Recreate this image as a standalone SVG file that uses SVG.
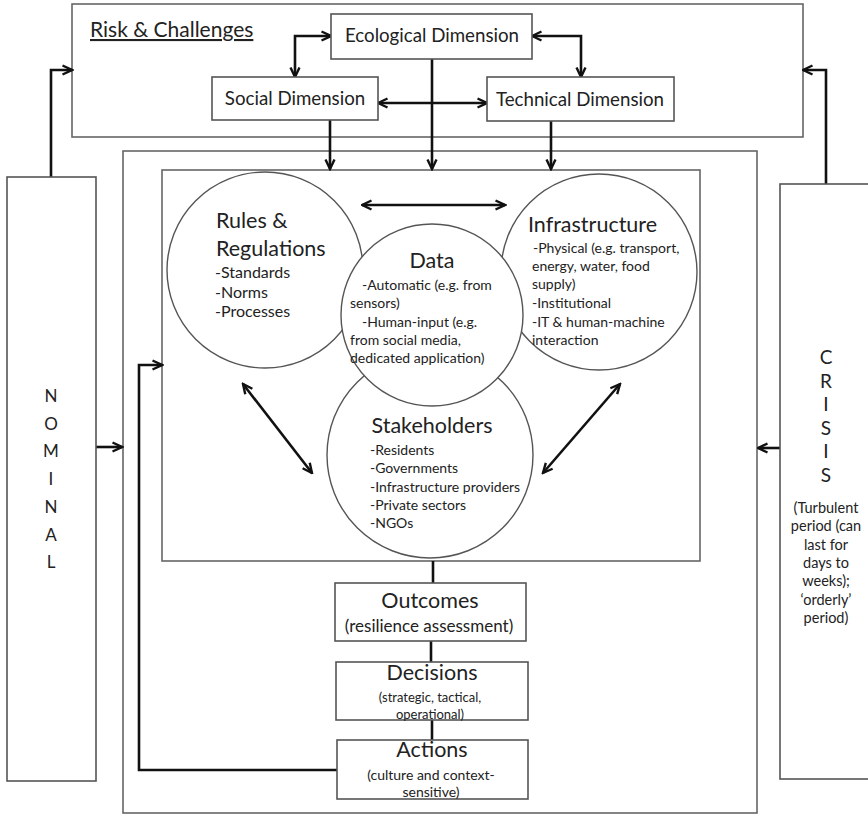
<svg xmlns="http://www.w3.org/2000/svg" width="868" height="815" viewBox="0 0 868 815">
  <defs>
    <style>
      text { font-family: Lato, "Open Sans", "Liberation Sans", sans-serif; fill: #222; }
      .frame { fill: #fff; stroke: #666; stroke-width: 1.6; }
      .box { fill: #fff; stroke: #555; stroke-width: 1.6; }
      .circle { fill: #fff; stroke: #555; stroke-width: 1.4; }
      .conn { fill: none; stroke: #111; stroke-width: 2.6; }
      .one { marker-end: url(#head); }
      .two { marker-start: url(#head); marker-end: url(#head); }
      .h1 { font-size: 21.5px; }
      .h2 { font-size: 18.7px; }
      .item { font-size: 14px; }
      .mid { text-anchor: middle; }
    </style>
    <marker id="head" viewBox="0 0 12 12" refX="10.5" refY="6" markerWidth="12" markerHeight="12" markerUnits="userSpaceOnUse" orient="auto-start-reverse">
      <path d="M1,1.5 L10.5,6 L1,10.5" fill="none" stroke="#111" stroke-width="2.4" stroke-linejoin="miter"/>
    </marker>
  </defs>

  <rect width="868" height="815" fill="#fff"/>

  <!-- outer frames -->
  <g id="risk-frame">
    <rect class="frame" x="72" y="4" width="731" height="133"/>
    <text x="90" y="37" font-size="21" text-decoration="underline">Risk &amp; Challenges</text>
  </g>
  <g id="system-frame">
    <rect class="frame" x="123" y="151" width="634" height="662"/>
    <rect class="frame" x="162" y="170" width="538" height="391"/>
  </g>

  <!-- connectors -->
  <g id="connectors">
    <!-- within the risk frame -->
    <path class="conn two" d="M331,36 H295 V77"/>
    <path class="conn two" d="M532,36 H581 V77"/>
    <path class="conn two" d="M378,103 H487"/>
    <!-- dimensions into the system -->
    <path class="conn one" d="M330,120 V169"/>
    <path class="conn one" d="M432,59 V169"/>
    <path class="conn one" d="M551,121 V169"/>
    <!-- between circles -->
    <path class="conn two" d="M362,205 H505"/>
    <path class="conn two" d="M243,384 L312,473"/>
    <path class="conn two" d="M620,384 L543,473"/>
    <!-- outcome chain -->
    <path class="conn" d="M433,561 V583"/>
    <path class="conn" d="M431,641 V662"/>
    <path class="conn" d="M432,720 V740"/>
    <!-- feedback from actions -->
    <path class="conn one" d="M337,770 H139 V365 H162"/>
    <!-- modes -->
    <path class="conn one" d="M51,177 V70 H72"/>
    <path class="conn one" d="M826,184 V70 H803"/>
    <path class="conn one" d="M96,447 H122"/>
    <path class="conn one" d="M780,448 H758"/>
  </g>

  <!-- dimension boxes -->
  <g id="ecological">
    <rect class="box" x="331" y="14" width="201" height="45"/>
    <text x="432" y="42" class="h2 mid">Ecological Dimension</text>
  </g>
  <g id="social">
    <rect class="box" x="212" y="77" width="166" height="43"/>
    <text x="295" y="105" class="h2 mid">Social Dimension</text>
  </g>
  <g id="technical">
    <rect class="box" x="487" y="77" width="187" height="44"/>
    <text x="580" y="106" class="h2 mid">Technical Dimension</text>
  </g>

  <!-- circles -->
  <g id="rules">
    <circle class="circle" cx="265" cy="270" r="98"/>
    <text x="216" y="228" class="h1">Rules &amp;</text>
    <text x="216" y="256" class="h1">Regulations</text>
    <text x="215" y="278" font-size="16">-Standards</text>
    <text x="215" y="298" font-size="16">-Norms</text>
    <text x="215" y="317" font-size="16">-Processes</text>
  </g>
  <g id="infrastructure">
    <circle class="circle" cx="599" cy="272" r="98"/>
    <text x="528" y="232" class="h1">Infrastructure</text>
    <text x="533" y="253" class="item">-Physical (e.g. transport,</text>
    <text x="532" y="271" class="item">energy, water, food</text>
    <text x="532" y="289" class="item">supply)</text>
    <text x="532" y="308" class="item">-Institutional</text>
    <text x="532" y="327" class="item">-IT &amp; human-machine</text>
    <text x="532" y="345" class="item">interaction</text>
  </g>
  <g id="stakeholders">
    <circle class="circle" cx="430" cy="455" r="103"/>
    <text x="432" y="433" class="h1 mid">Stakeholders</text>
    <text x="370" y="455" class="item">-Residents</text>
    <text x="370" y="473" class="item">-Governments</text>
    <text x="370" y="492" class="item">-Infrastructure providers</text>
    <text x="370" y="510" class="item">-Private sectors</text>
    <text x="370" y="528" class="item">-NGOs</text>
  </g>
  <g id="data">
    <circle class="circle" cx="432" cy="315" r="91"/>
    <text x="432" y="268" class="h1 mid">Data</text>
    <text x="362" y="290" class="item">-Automatic (e.g. from</text>
    <text x="350" y="308" class="item">sensors)</text>
    <text x="362" y="327" class="item">-Human-input (e.g.</text>
    <text x="350" y="345" class="item">from social media,</text>
    <text x="350" y="363" class="item">dedicated application)</text>
  </g>

  <!-- outcome chain boxes -->
  <g id="outcomes">
    <rect class="box" x="335" y="583" width="191" height="58"/>
    <text x="430" y="608" class="h1 mid">Outcomes</text>
    <text x="429" y="632" class="mid" font-size="17">(resilience assessment)</text>
  </g>
  <g id="decisions">
    <rect class="box" x="336" y="662" width="192" height="58"/>
    <text x="432" y="680" class="h1 mid">Decisions</text>
    <text x="430" y="702" class="mid" font-size="13">(strategic, tactical,</text>
    <text x="430" y="719" class="mid" font-size="13">operational)</text>
  </g>
  <g id="actions">
    <rect class="box" x="337" y="740" width="191" height="59"/>
    <text x="432" y="757" class="h1 mid">Actions</text>
    <text x="431" y="780" class="item mid">(culture and context-</text>
    <text x="431" y="797" class="item mid">sensitive)</text>
  </g>

  <!-- operating modes -->
  <g id="nominal">
    <rect class="box" x="7" y="177" width="89" height="604"/>
    <text class="mid" font-size="17" x="51" y="402">N<tspan x="51" dy="27.7">O</tspan><tspan x="51" dy="27.7">M</tspan><tspan x="51" dy="27.7">I</tspan><tspan x="51" dy="27.7">N</tspan><tspan x="51" dy="27.7">A</tspan><tspan x="51" dy="27.7">L</tspan></text>
  </g>
  <g id="crisis">
    <rect class="box" x="780" y="184" width="95" height="595"/>
    <text class="mid" font-size="19" x="826" y="364">C<tspan x="826" dy="23.6">R</tspan><tspan x="826" dy="23.6">I</tspan><tspan x="826" dy="23.6">S</tspan><tspan x="826" dy="23.6">I</tspan><tspan x="826" dy="23.6">S</tspan></text>
    <text class="mid" font-size="14.5" x="826" y="513">(Turbulent<tspan x="826" dy="18.3">period (can</tspan><tspan x="826" dy="18.3">last for</tspan><tspan x="826" dy="18.3">days to</tspan><tspan x="826" dy="18.3">weeks);</tspan><tspan x="826" dy="18.3">‘orderly’</tspan><tspan x="826" dy="18.3">period)</tspan></text>
  </g>
</svg>
